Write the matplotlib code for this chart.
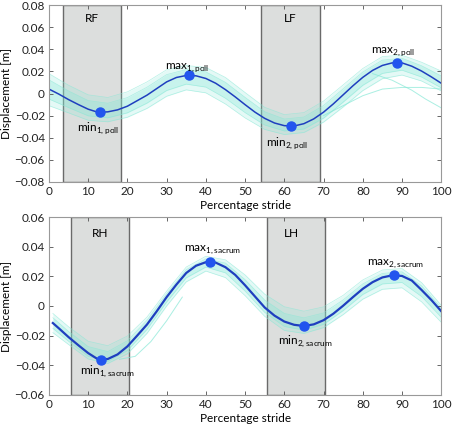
import numpy as np
import matplotlib
matplotlib.use("Agg")
import matplotlib.pyplot as plt

plt.rcParams['font.family'] = ['Lato', 'DejaVu Sans']
plt.rcParams['mathtext.fontset'] = 'custom'
plt.rcParams['mathtext.rm'] = 'Lato'

# ---------------- top panel: poll ----------------
x_poll = [0, 2.5, 5, 7.5, 10, 12.5, 15, 17.5, 20, 22.5, 25, 27.5, 30, 32.5, 35, 37.5, 40,
          42.5, 45, 47.5, 50, 52.5, 55, 57.5, 60, 62.5, 65, 67.5, 70, 72.5, 75, 77.5, 80,
          82.5, 85, 87.5, 90, 92.5, 95, 97.5, 100]
mean_poll = [0.0040, -0.0005, -0.0055, -0.0100, -0.0142, -0.0170, -0.0166, -0.0148, -0.0115,
             -0.0065, -0.0015, 0.0045, 0.0105, 0.0145, 0.0163, 0.0160, 0.0136, 0.0093, 0.0035,
             -0.0031, -0.0101, -0.0168, -0.0225, -0.0267, -0.0291, -0.0294, -0.0273, -0.0230,
             -0.0169, -0.0094, -0.0012, 0.0070, 0.0146, 0.0209, 0.0254, 0.0277, 0.0277, 0.0247,
             0.0203, 0.0150, 0.0093]

xb_poll = [0, 5, 10, 15, 20, 25, 30, 35, 40, 45, 50, 55, 60, 65, 70, 75, 80, 85, 90, 95, 100]
outer_hi_poll = [0.0180, 0.0075, -0.0012, -0.0036, 0.0015, 0.0105, 0.0215, 0.0253, 0.0236, 0.0145,
                 0.0009, -0.0125, -0.0191, -0.0173, -0.0069, 0.0078, 0.0226, 0.0334, 0.0347, 0.0283, 0.0203]
outer_lo_poll = [-0.0110, -0.0175, -0.0242, -0.0256, -0.0215, -0.0135, -0.0025, 0.0033, 0.0006, -0.0095,
                 -0.0221, -0.0325, -0.0371, -0.0353, -0.0259, -0.0122, 0.0026, 0.0134, 0.0167, 0.0113, 0.0023]
inner_hi_poll = [0.0124, 0.0023, -0.0064, -0.0088, -0.0037, 0.0057, 0.0171, 0.0217, 0.0196, 0.0101,
                 -0.0035, -0.0165, -0.0231, -0.0213, -0.0109, 0.0042, 0.0194, 0.0302, 0.0319, 0.0251, 0.0159]
inner_lo_poll = [-0.0050, -0.0127, -0.0202, -0.0220, -0.0175, -0.0087, 0.0027, 0.0085, 0.0058, -0.0043,
                 -0.0173, -0.0285, -0.0339, -0.0321, -0.0223, -0.0078, 0.0074, 0.0182, 0.0211, 0.0149, 0.0051]

# stray strides at the end of the stride
odd1_x = [70, 75, 80, 85, 90, 95, 100]
odd1_y = [-0.020, -0.011, -0.002, 0.004, 0.0055, 0.0055, 0.004]
odd2_x = [82.5, 87.5, 92.5, 96, 100]
odd2_y = [0.018, 0.012, 0.003, -0.005, -0.013]

ext_x_poll = [12.9, 35.8, 61.6, 88.7]
ext_y_poll = [-0.0171, 0.0165, -0.0295, 0.0280]

# ---------------- bottom panel: sacrum ----------------
x_sac = [1, 2.5, 5, 7.5, 10, 12.5, 15, 17.5, 20, 22.5, 25, 27.5, 30, 32.5, 35, 37.5, 40,
         42.5, 45, 47.5, 50, 52.5, 55, 57.5, 60, 62.5, 65, 67.5, 70, 72.5, 75, 77.5, 80,
         82.5, 85, 87.5, 90, 92.5, 95, 97.5, 100]
mean_sac = [-0.0115, -0.0150, -0.0210, -0.0265, -0.0318, -0.0360, -0.0358, -0.0327, -0.0273,
            -0.0200, -0.0125, -0.0035, 0.0060, 0.0145, 0.0223, 0.0272, 0.0296, 0.0293, 0.0262,
            0.0210, 0.0140, 0.0065, -0.0010, -0.0065, -0.0105, -0.0127, -0.0135, -0.0124,
            -0.0096, -0.0052, 0.0002, 0.0060, 0.0116, 0.0161, 0.0193, 0.0207, 0.0203, 0.0172,
            0.0108, 0.0040, -0.0035]

xb_sac = [1, 5, 10, 15, 20, 25, 30, 35, 40, 45, 50, 55, 60, 65, 70, 75, 80, 85, 90, 95, 100]
outer_hi_sac = [-0.0050, -0.0140, -0.0238, -0.0268, -0.0203, -0.0075, 0.0100, 0.0263, 0.0336, 0.0312,
                0.0210, 0.0080, -0.0005, -0.0035, -0.0006, 0.0072, 0.0176, 0.0243, 0.0253, 0.0158, 0.0005]
outer_lo_sac = [-0.0180, -0.0260, -0.0358, -0.0388, -0.0323, -0.0185, 0.0000, 0.0163, 0.0236, 0.0192,
                0.0070, -0.0070, -0.0165, -0.0185, -0.0146, -0.0058, 0.0046, 0.0113, 0.0123, 0.0028, -0.0110]
inner_hi_sac = [-0.0079, -0.0172, -0.0274, -0.0308, -0.0235, -0.0097, 0.0082, 0.0245, 0.0318, 0.0290,
                0.0178, 0.0040, -0.0050, -0.0080, -0.0047, 0.0041, 0.0149, 0.0220, 0.0231, 0.0136, -0.0013]
inner_lo_sac = [-0.0151, -0.0238, -0.0340, -0.0374, -0.0301, -0.0158, 0.0027, 0.0190, 0.0263, 0.0224,
                0.0101, -0.0043, -0.0138, -0.0163, -0.0124, -0.0031, 0.0078, 0.0149, 0.0159, 0.0064, -0.0076]

odd3_x = [18, 22, 26, 30, 34]
odd3_y = [-0.036, -0.034, -0.024, -0.010, 0.006]

ext_x_sac = [13.3, 41.1, 64.9, 88.0]
ext_y_sac = [-0.0364, 0.0299, -0.0135, 0.0207]

band_col = '#86e8d6'
mean_col = '#1f3fbf'
dot_col = '#2255ee'


def style_axes(ax, ylim, yticks):
    ax.set_xlim(0, 100)
    ax.set_ylim(*ylim)
    ax.set_xticks(range(0, 101, 10))
    ax.set_yticks(yticks)
    ax.set_yticklabels(['0' if t == 0 else ('%.2f' % t).replace('-', '\u2212') for t in yticks])
    ax.tick_params(direction='in', length=3, width=0.7, top=True, right=True,
                   labelsize=8.5, colors='#666666', labelcolor='#222222', pad=3)
    for s in ax.spines.values():
        s.set_color('#999999')
        s.set_linewidth(0.8)
    ax.set_xlabel('Percentage stride', fontsize=8.5, labelpad=2)
    ax.set_ylabel('Displacement [m]', fontsize=8.5, labelpad=2)


def band(ax, xb, olo, ohi, ilo, ihi):
    ax.fill_between(xb, olo, ohi, color=band_col, alpha=0.22, lw=0, zorder=1)
    ax.fill_between(xb, ilo, ihi, color=band_col, alpha=0.30, lw=0, zorder=1)
    for yy in [olo, ohi, ilo, ihi]:
        ax.plot(xb, yy, color=band_col, lw=0.5, alpha=0.6, zorder=1)


fig = plt.figure(figsize=(4.53, 4.25), dpi=100)
ax1 = fig.add_axes([0.108, 0.572, 0.866, 0.416])
ax2 = fig.add_axes([0.108, 0.071, 0.866, 0.418])

# top
ax1.axvspan(3.5, 18.5, facecolor='#dcdedd', edgecolor='#6a6a6a', linewidth=1.0, zorder=0)
ax1.axvspan(54, 69, facecolor='#dcdedd', edgecolor='#6a6a6a', linewidth=1.0, zorder=0)
band(ax1, xb_poll, outer_lo_poll, outer_hi_poll, inner_lo_poll, inner_hi_poll)
ax1.plot(odd1_x, odd1_y, color=band_col, lw=0.7, alpha=0.7, zorder=1)
ax1.plot(odd2_x, odd2_y, color=band_col, lw=0.7, alpha=0.7, zorder=1)
ax1.plot(x_poll, mean_poll, color=mean_col, lw=1.1, zorder=2)
ax1.plot(ext_x_poll, ext_y_poll, 'o', color=dot_col, ms=6.5, zorder=3)
ax1.text(11, 0.068, 'RF', fontsize=8.5, ha='center', va='center')
ax1.text(61.5, 0.068, 'LF', fontsize=8.5, ha='center', va='center')
ax1.text(12.4, -0.0315, r'min$_{\mathrm{1,poll}}$', fontsize=8.5, ha='center', va='center')
ax1.text(35.3, 0.0235, r'max$_{\mathrm{1,poll}}$', fontsize=8.5, ha='center', va='center')
ax1.text(60.7, -0.0448, r'min$_{\mathrm{2,poll}}$', fontsize=8.5, ha='center', va='center')
ax1.text(87.8, 0.0375, r'max$_{\mathrm{2,poll}}$', fontsize=8.5, ha='center', va='center')
style_axes(ax1, (-0.08, 0.08), [-0.08, -0.06, -0.04, -0.02, 0, 0.02, 0.04, 0.06, 0.08])

# bottom
ax2.axvspan(5.5, 20.5, facecolor='#dcdedd', edgecolor='#6a6a6a', linewidth=1.0, zorder=0)
ax2.axvspan(55.5, 70.5, facecolor='#dcdedd', edgecolor='#6a6a6a', linewidth=1.0, zorder=0)
band(ax2, xb_sac, outer_lo_sac, outer_hi_sac, inner_lo_sac, inner_hi_sac)
ax2.plot(odd3_x, odd3_y, color=band_col, lw=0.7, alpha=0.7, zorder=1)
ax2.plot(x_sac, mean_sac, color=mean_col, lw=1.6, zorder=2)
ax2.plot(ext_x_sac, ext_y_sac, 'o', color=dot_col, ms=6.5, zorder=3)
ax2.text(13, 0.049, 'RH', fontsize=8.5, ha='center', va='center')
ax2.text(61.7, 0.049, 'LH', fontsize=8.5, ha='center', va='center')
ax2.text(14.9, -0.0443, r'min$_{\mathrm{1,sacrum}}$', fontsize=8.5, ha='center', va='center')
ax2.text(41.7, 0.0384, r'max$_{\mathrm{1,sacrum}}$', fontsize=8.5, ha='center', va='center')
ax2.text(65.3, -0.0234, r'min$_{\mathrm{2,sacrum}}$', fontsize=8.5, ha='center', va='center')
ax2.text(88.4, 0.0288, r'max$_{\mathrm{2,sacrum}}$', fontsize=8.5, ha='center', va='center')
style_axes(ax2, (-0.06, 0.06), [-0.06, -0.04, -0.02, 0, 0.02, 0.04, 0.06])

fig.savefig('out.png', dpi=100)
